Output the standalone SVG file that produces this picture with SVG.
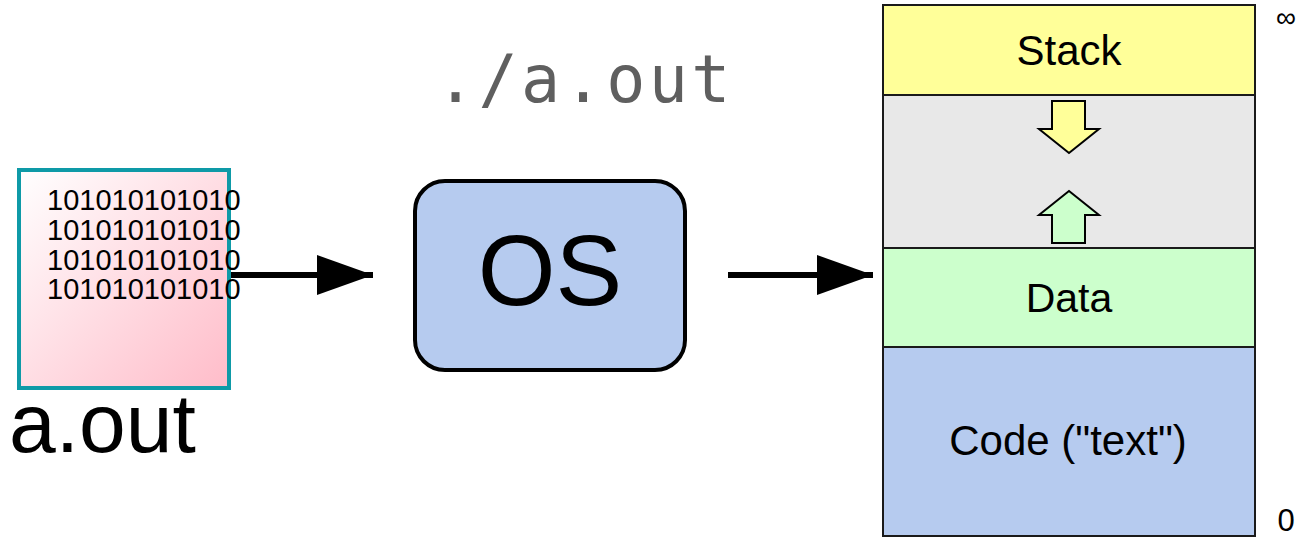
<svg xmlns="http://www.w3.org/2000/svg" width="1303" height="539" viewBox="0 0 1303 539">
  <style>
    .sans { font-family: "Liberation Sans", Arial, sans-serif; fill: #000; }
    .mono { font-family: "DejaVu Sans Mono", "Liberation Mono", monospace; fill: #5f5f5f; }
    .seg { stroke: #1a1a1a; stroke-width: 2; }
    .conn { stroke: #000; stroke-width: 6; fill: none; }
    .grow { stroke: #000; stroke-width: 2; stroke-linejoin: miter; }
  </style>
  <defs>
    <linearGradient id="binFill" x1="0" y1="0" x2="1" y2="1">
      <stop offset="0" stop-color="#ffffff"/>
      <stop offset="1" stop-color="#ffbcc9"/>
    </linearGradient>
    <marker id="head" markerWidth="56" markerHeight="40" refX="56" refY="20" markerUnits="userSpaceOnUse" orient="auto">
      <path d="M0,0 L56,20 L0,40 Z" fill="#000"/>
    </marker>
  </defs>

  <!-- command typed at the shell -->
  <text class="mono" x="436" y="102" font-size="65" letter-spacing="3.4">./a.out</text>

  <!-- executable file on disk -->
  <g id="file">
    <rect x="19" y="170" width="210" height="218" fill="url(#binFill)" stroke="#0e9aa7" stroke-width="4"/>
    <text class="sans" font-size="29">
      <tspan x="47" y="210">101010101010</tspan>
      <tspan x="47" y="240">101010101010</tspan>
      <tspan x="47" y="270">101010101010</tspan>
      <tspan x="47" y="299">101010101010</tspan>
    </text>
    <text class="sans" x="9" y="452" font-size="84">a.out</text>
  </g>

  <!-- loader -->
  <g id="os">
    <rect x="415" y="181" width="270" height="189" rx="30" ry="30" fill="#b6cbef" stroke="#000" stroke-width="4"/>
    <text class="sans" x="550" y="305" font-size="100" text-anchor="middle">OS</text>
  </g>

  <!-- process address space -->
  <g id="memory">
    <rect class="seg" x="883" y="5" width="372" height="90" fill="#ffff99"/>
    <rect class="seg" x="883" y="95" width="372" height="153" fill="#e8e8e8"/>
    <rect class="seg" x="883" y="248" width="372" height="99" fill="#ccffcc"/>
    <rect class="seg" x="883" y="347" width="372" height="189" fill="#b6cbef"/>
    <text class="sans" x="1069" y="65" font-size="42" text-anchor="middle">Stack</text>
    <text class="sans" x="1069" y="312" font-size="41" text-anchor="middle">Data</text>
    <text class="sans" x="1068" y="455" font-size="42" text-anchor="middle">Code ("text")</text>
    <!-- stack grows down, heap/data grows up -->
    <path class="grow" d="M1052,101 L1085,101 L1085,129 L1099,129 L1069,153 L1039,129 L1052,129 Z" fill="#ffff99"/>
    <path class="grow" d="M1052,243 L1085,243 L1085,215 L1099,215 L1069,191 L1039,215 L1052,215 Z" fill="#ccffcc"/>
    <text class="sans" x="1286" y="27" font-size="28" text-anchor="middle">∞</text>
    <text class="sans" x="1286" y="531" font-size="31" text-anchor="middle">0</text>
  </g>

  <g id="connectors">
    <line class="conn" x1="231" y1="275" x2="373" y2="275" marker-end="url(#head)"/>
    <line class="conn" x1="728" y1="275" x2="873" y2="275" marker-end="url(#head)"/>
  </g>
</svg>
